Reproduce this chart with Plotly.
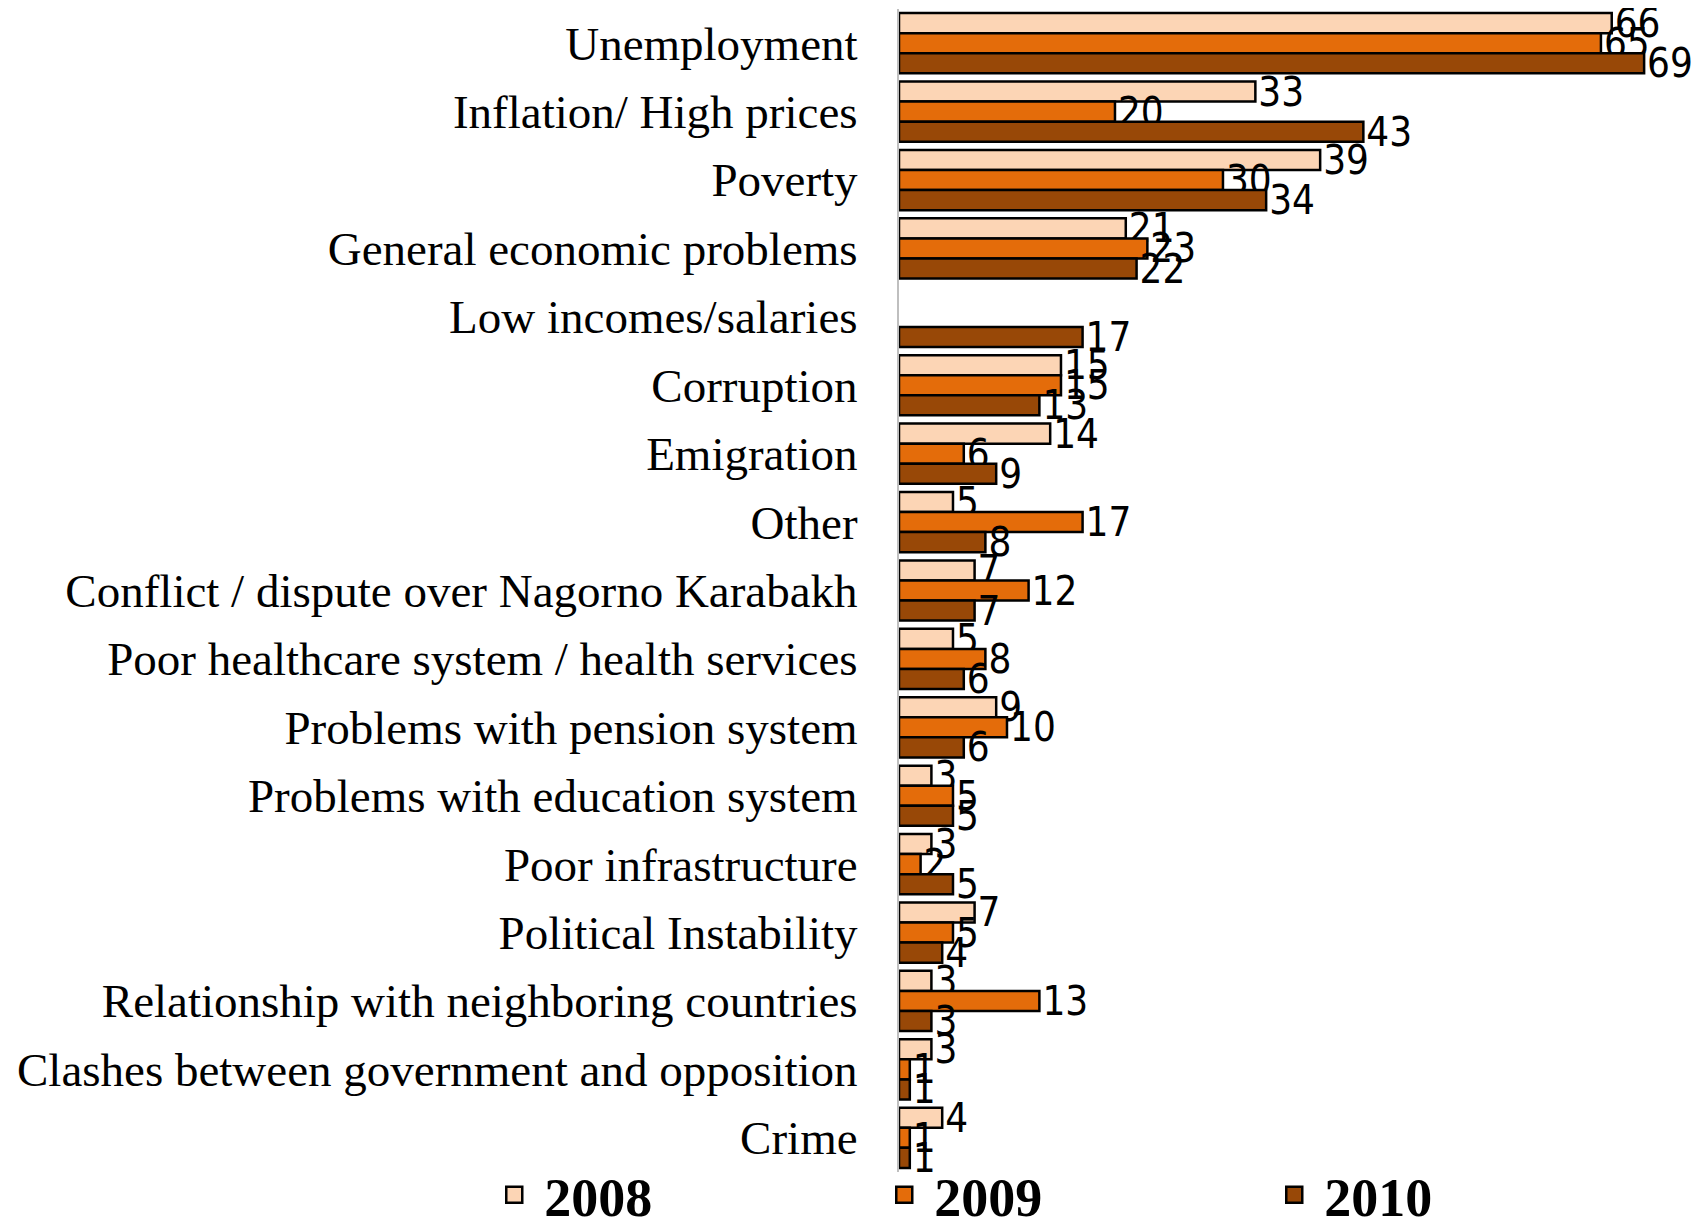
import plotly.graph_objects as go

categories = [
    "Unemployment", "Inflation/ High prices", "Poverty", "General economic problems",
    "Low incomes/salaries", "Corruption", "Emigration", "Other",
    "Conflict / dispute over Nagorno Karabakh", "Poor healthcare system / health services",
    "Problems with pension system", "Problems with education system", "Poor infrastructure",
    "Political Instability", "Relationship with neighboring countries",
    "Clashes between government and opposition", "Crime",
]
v2008 = [66, 33, 39, 21, None, 15, 14, 5, 7, 5, 9, 3, 3, 7, 3, 3, 4]
v2009 = [65, 20, 30, 23, None, 15, 6, 17, 12, 8, 10, 5, 2, 5, 13, 1, 1]
v2010 = [69, 43, 34, 22, 17, 13, 9, 8, 7, 6, 6, 5, 5, 4, 3, 1, 1]

series = [("2008", v2008, "#FCD5B5"), ("2009", v2009, "#E46C0A"), ("2010", v2010, "#984807")]

fig = go.Figure()
for name, vals, color in series:
    fig.add_trace(go.Bar(
        name=name, y=categories, x=vals, orientation="h", showlegend=False,
        marker=dict(color=color, line=dict(color="black", width=2.5)),
        text=[("" if v is None else str(v)) for v in vals],
        textposition="outside", cliponaxis=False, constraintext="none",
        textfont=dict(family="DejaVu Sans Condensed, Liberation Sans Narrow, DejaVu Sans",
                      size=40, color="black"),
    ))
# legend entries
for name, vals, color in series:
    fig.add_trace(go.Scatter(
        name=name, x=[None], y=[None], mode="markers",
        marker=dict(symbol="square", size=16, color=color, line=dict(color="black", width=2.5)),
    ))

fig.update_layout(
    width=1691, height=1214,
    margin=dict(l=891, r=16, t=1, b=50, autoexpand=False),
    barmode="group", bargap=0.12, bargroupgap=0,
    plot_bgcolor="white", paper_bgcolor="white",
    showlegend=True,
    legend=dict(orientation="h", xref="paper", yref="paper",
                x=-0.529, y=-0.0198, xanchor="left", yanchor="middle",
                bgcolor="rgba(0,0,0,0)",
                entrywidth=325, entrywidthmode="pixels", itemsizing="trace", itemwidth=50,
                font=dict(family="Liberation Serif, Times New Roman, serif", size=54, color="black",
                          weight="bold"),
                traceorder="normal"),
    xaxis=dict(range=[0, 72.6], visible=False, showgrid=False, zeroline=False),
    yaxis=dict(autorange="reversed", showline=True, linecolor="#bfbfbf", linewidth=2,
               ticks="", ticklabelstandoff=30,
               tickfont=dict(family="Liberation Serif, Times New Roman, serif", size=47, color="black")),
)

fig.write_html("out.html")
